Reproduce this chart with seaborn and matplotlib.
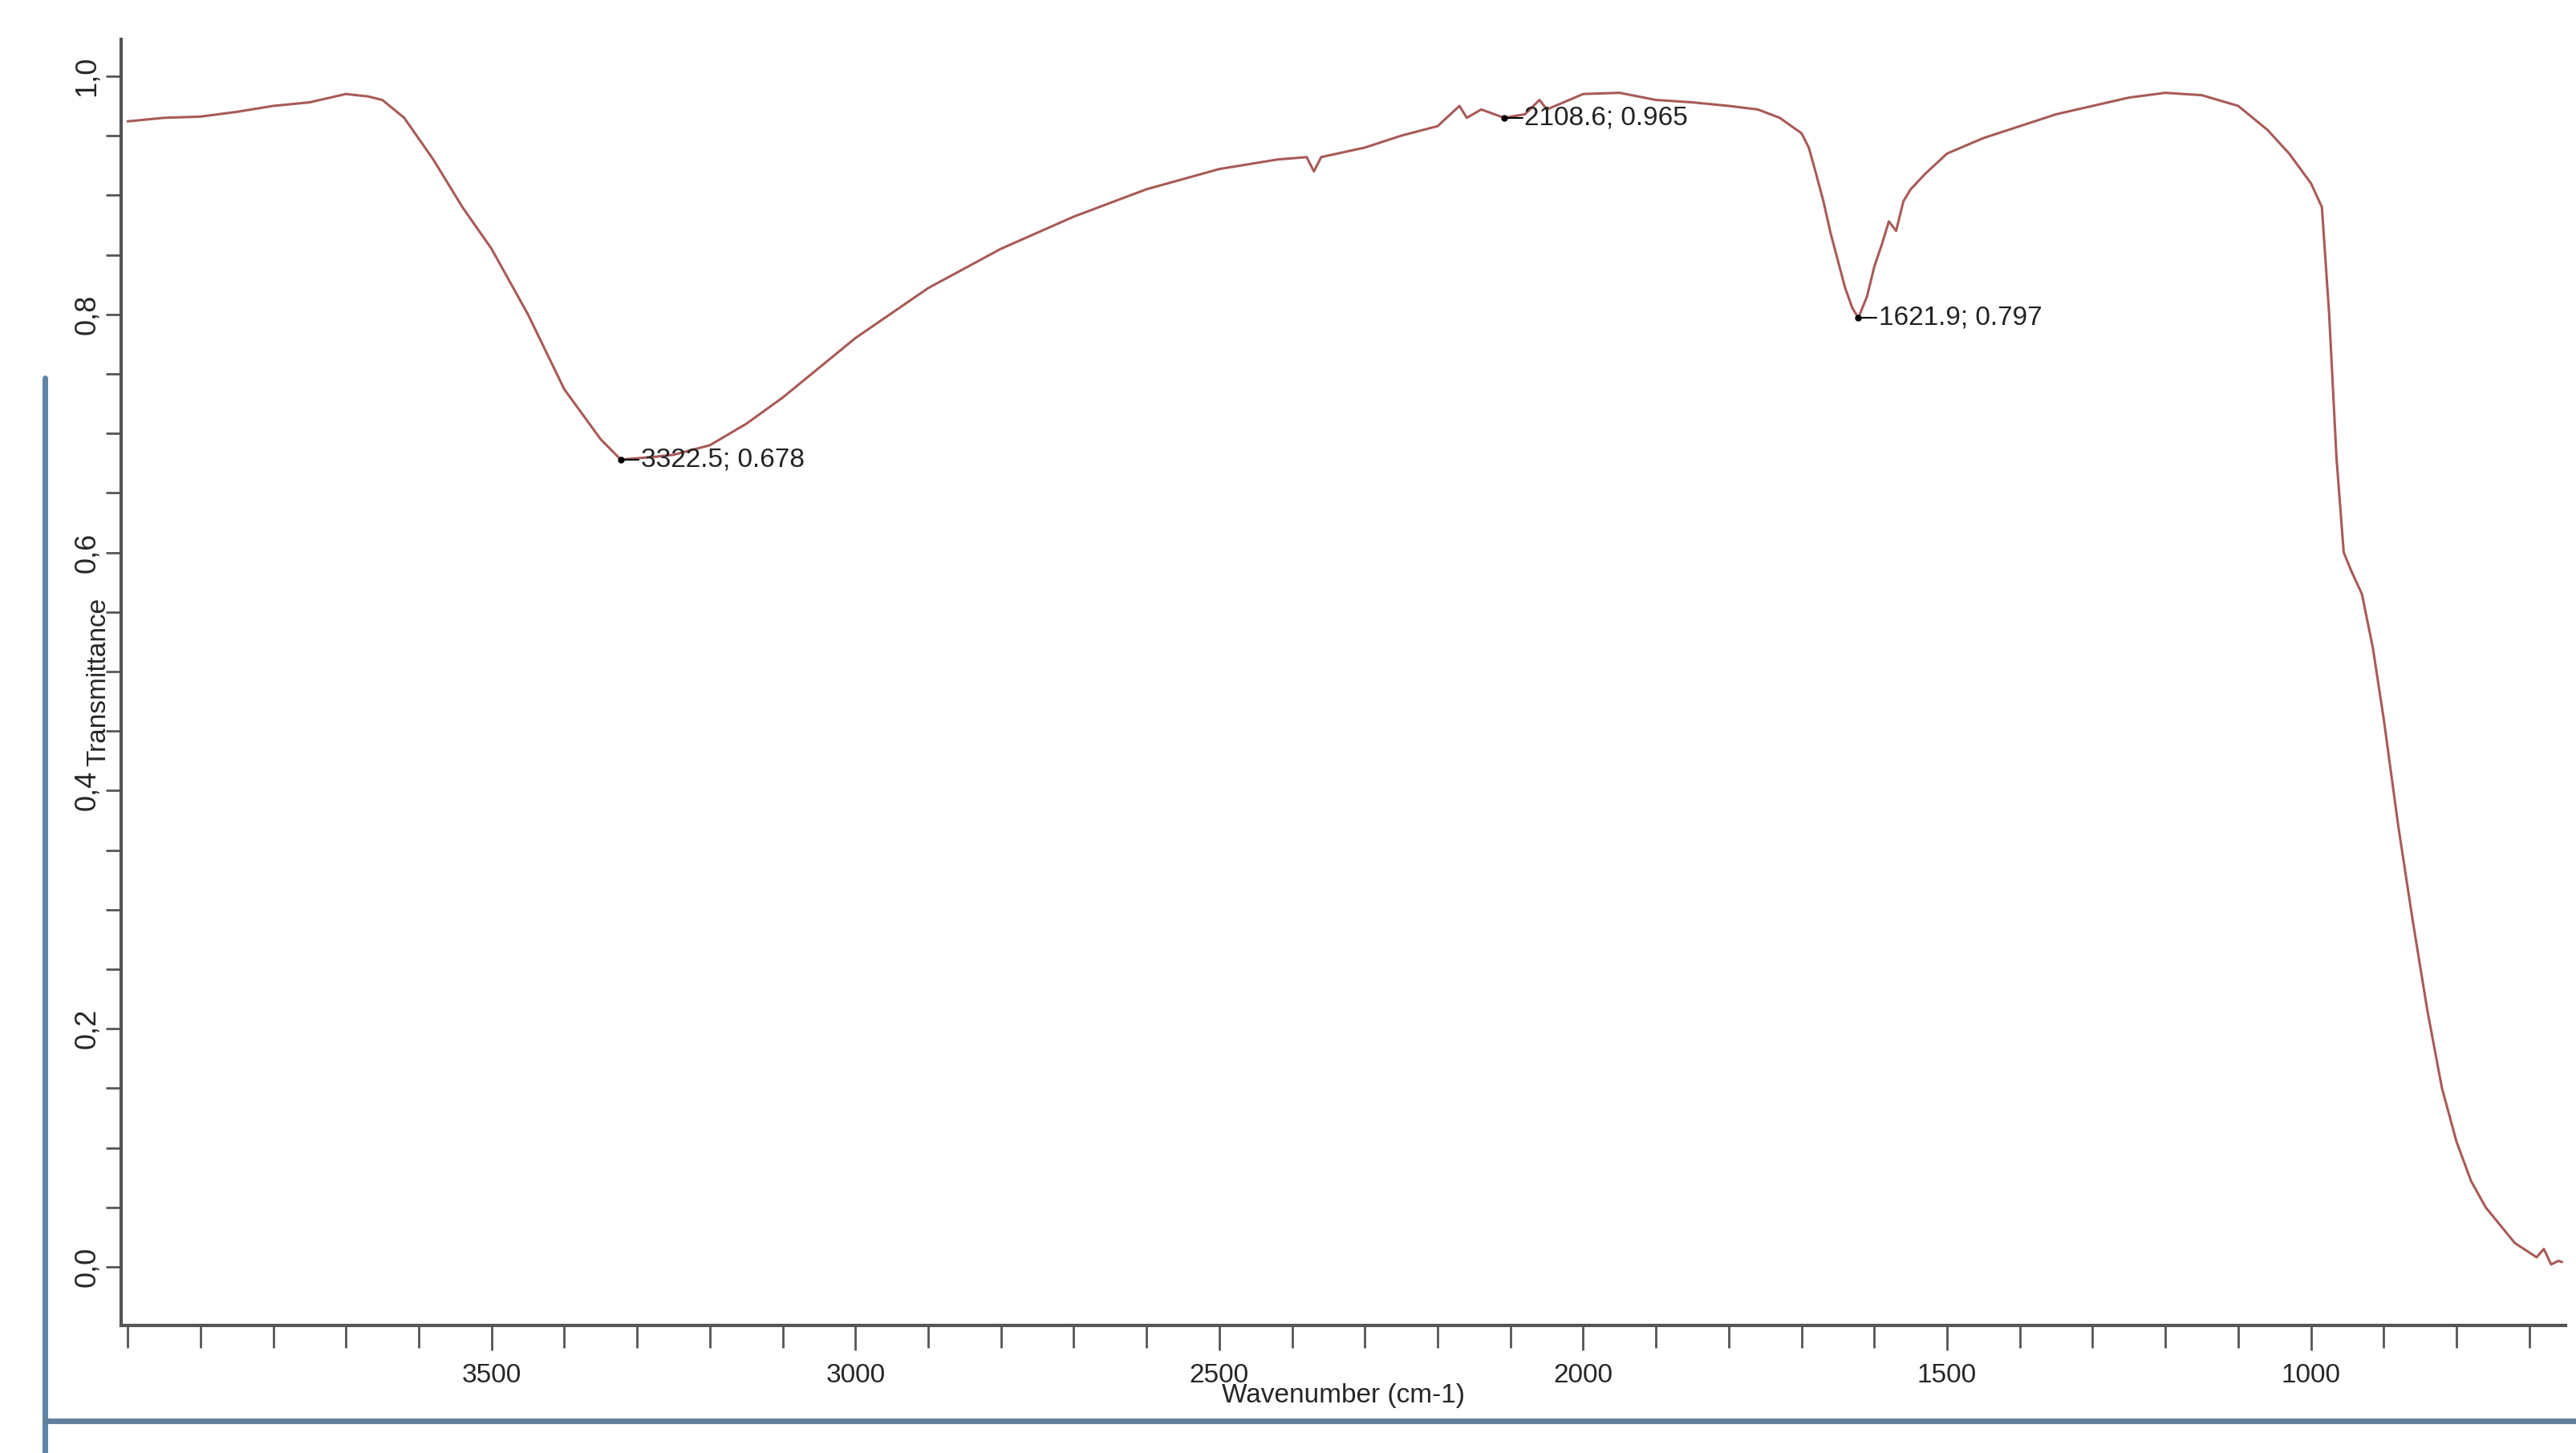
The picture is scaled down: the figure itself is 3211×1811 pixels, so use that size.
import matplotlib
matplotlib.use("Agg")
import matplotlib.pyplot as plt
import seaborn as sns
import pandas as pd
from matplotlib.ticker import MultipleLocator, FixedLocator, FuncFormatter
from matplotlib.lines import Line2D

wavenumber = [4000, 3950, 3900, 3850, 3800, 3750, 3700, 3670, 3650, 3620,
              3580, 3540, 3500, 3450, 3400, 3350, 3322.5, 3280, 3250, 3200,
              3150, 3100, 3050, 3000, 2900, 2800, 2700, 2600, 2500, 2420,
              2380, 2370, 2360, 2300, 2250, 2200, 2170, 2160, 2140, 2108.6,
              2080, 2060, 2050, 2000, 1950, 1900, 1850, 1800, 1760, 1730,
              1700, 1690, 1680, 1670, 1660, 1650, 1640, 1630, 1621.9, 1610,
              1600, 1590, 1580, 1570, 1560, 1550, 1530, 1500, 1450, 1400,
              1350, 1300, 1250, 1200, 1150, 1100, 1060, 1030, 1000, 985,
              975, 965, 955, 945, 930, 915, 900, 880, 860, 840,
              820, 800, 780, 760, 740, 720, 700, 690, 680, 670,
              660, 655]
transmittance = [0.962, 0.965, 0.966, 0.970, 0.975, 0.978, 0.985, 0.983, 0.980, 0.965,
                 0.930, 0.890, 0.855, 0.800, 0.737, 0.695, 0.678, 0.680, 0.682, 0.690,
                 0.708, 0.730, 0.755, 0.780, 0.822, 0.855, 0.882, 0.905, 0.922, 0.930,
                 0.932, 0.920, 0.932, 0.940, 0.950, 0.958, 0.975, 0.965, 0.972, 0.965,
                 0.968, 0.980, 0.972, 0.985, 0.986, 0.980, 0.978, 0.975, 0.972, 0.965,
                 0.952, 0.940, 0.918, 0.895, 0.868, 0.845, 0.822, 0.805, 0.797, 0.815,
                 0.840, 0.858, 0.878, 0.870, 0.895, 0.905, 0.918, 0.935, 0.948, 0.958,
                 0.968, 0.975, 0.982, 0.986, 0.984, 0.975, 0.955, 0.935, 0.910, 0.890,
                 0.800, 0.680, 0.600, 0.585, 0.565, 0.520, 0.460, 0.370, 0.290, 0.215,
                 0.150, 0.105, 0.072, 0.050, 0.035, 0.020, 0.012, 0.008, 0.015, 0.002,
                 0.005, 0.004]

peak_x = [3322.5, 2108.6, 1621.9]
peak_y = [0.678, 0.965, 0.797]
peak_labels = ["3322.5; 0.678", "2108.6; 0.965", "1621.9; 0.797"]
x_major = [3500, 3000, 2500, 2000, 1500, 1000]

df = pd.DataFrame({"Wavenumber (cm-1)": wavenumber, "Transmittance": transmittance})

sns.set_style("white")
plt.rcParams['font.family'] = ['Liberation Sans', 'DejaVu Sans']

fig = plt.figure(figsize=(32.11, 18.11), dpi=100)
ax = fig.add_axes([0.047, 0.088, 0.949, 0.885])
sns.lineplot(data=df, x="Wavenumber (cm-1)", y="Transmittance", ax=ax,
             color="#a85a55", linewidth=2.2, sort=False)

for px, py, lab in zip(peak_x, peak_y, peak_labels):
    ax.plot([px], [py], "o", color="black", markersize=5)
    ax.plot([px, px - 25], [py, py], color="black", linewidth=1.5)
    ax.text(px - 28, py, lab, fontsize=24, va="center", ha="left", color="#222222")

ax.set_xlim(4009, 650)
ax.set_ylim(-0.049, 1.031)
ax.xaxis.set_major_locator(FixedLocator(x_major))
ax.xaxis.set_minor_locator(MultipleLocator(100))
ax.yaxis.set_major_locator(MultipleLocator(0.2))
ax.yaxis.set_minor_locator(MultipleLocator(0.05))
ax.yaxis.set_major_formatter(FuncFormatter(lambda v, p: f"{v:.1f}".replace(".", ",")))
ax.tick_params(axis="x", which="both", bottom=True, direction="out", length=22, width=2,
               color="#555555", labelsize=24, pad=12)
ax.tick_params(axis="x", which="minor", length=20)
ax.tick_params(axis="y", which="both", left=True, direction="out", length=14, width=2,
               color="#555555", labelsize=26, pad=4)
for lab in ax.get_yticklabels():
    lab.set_rotation(90)
    lab.set_va("center")
for s in ["top", "right"]:
    ax.spines[s].set_visible(False)
for s in ["left", "bottom"]:
    ax.spines[s].set_color("#555555")
    ax.spines[s].set_linewidth(3)
ax.set_xlabel("Wavenumber (cm-1)", fontsize=24, labelpad=-4)
ax.set_ylabel("Transmittance", fontsize=24, labelpad=-34)

fig.add_artist(Line2D([0.0175, 0.0175], [0.0, 0.74], transform=fig.transFigure,
                      color="#5f85a5", linewidth=5))
fig.add_artist(Line2D([0.0175, 1.0], [0.022, 0.022], transform=fig.transFigure,
                      color="#5f7f9a", linewidth=5))

fig.savefig("out.png", dpi=100)
